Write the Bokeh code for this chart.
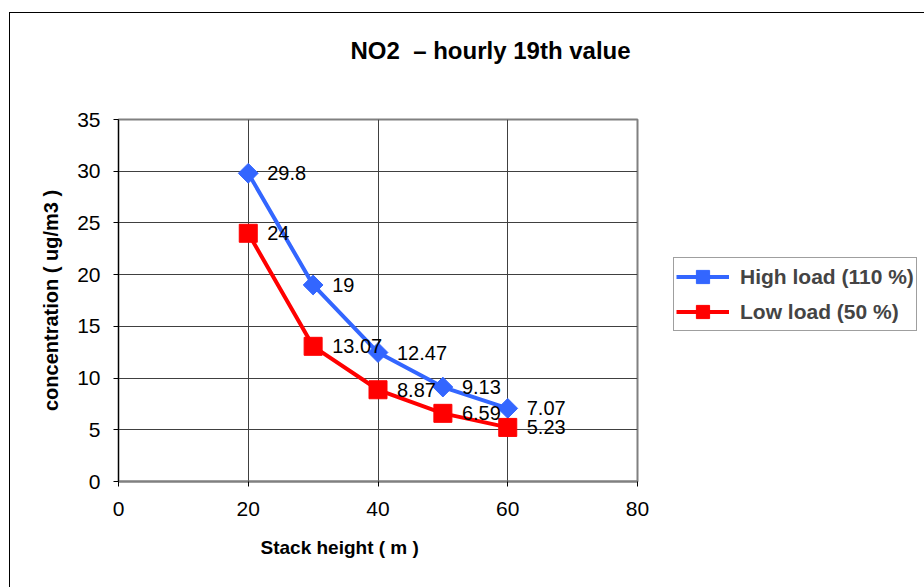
from bokeh.plotting import figure
from bokeh.models import (Legend, LegendItem, FixedTicker, Title,
                          ColumnDataSource, Range1d, LabelSet)
from bokeh.core.properties import value
from bokeh.embed import file_html
from bokeh.resources import INLINE
import numpy as np

# ---- data ----
stack_height = [20, 30, 40, 50, 60]
high_load = [29.8, 19, 12.47, 9.13, 7.07]
low_load = [24, 13.07, 8.87, 6.59, 5.23]
high_labels = ["29.8", "19", "12.47", "9.13", "7.07"]
low_labels = ["24", "13.07", "8.87", "6.59", "5.23"]
x_ticks = [0, 20, 40, 60, 80]
y_ticks = [0, 5, 10, 15, 20, 25, 30, 35]
title_text = "NO2\u00a0\u00a0\u2013 hourly 19th value"
x_label = "Stack height ( m )"
y_label = "concentration ( ug/m3 )"
series_names = ["High load (110 %)", "Low load (50 %)"]

FONT = "Liberation Sans"
BLUE = "#3366FF"
RED = "#FF0000"

p = figure(frame_width=519, frame_height=362, output_backend="svg", toolbar_location=None,
           x_range=Range1d(0, 80), y_range=Range1d(0, 35),
           min_border_left=108, min_border_right=0,
           min_border_top=106, min_border_bottom=107)
p.margin = (12, 0, 0, 9)
p.styles = {"border-left": "1px solid black", "border-top": "1px solid black"}
p.background_fill_color = "white"
p.border_fill_color = "white"
p.outline_line_color = "#808080"
p.outline_line_width = 2

# axes
for ax in (p.xaxis[0], p.yaxis[0]):
    ax.major_label_text_font = FONT
    ax.major_label_text_font_size = "21px"
    ax.major_label_text_color = "black"
    ax.axis_line_color = "#808080"
    ax.axis_line_width = 2
    ax.major_tick_line_color = "black"
    ax.major_tick_in = 0
    ax.major_tick_out = 5
    ax.minor_tick_line_color = None
p.xaxis.ticker = FixedTicker(ticks=x_ticks)
p.yaxis.ticker = FixedTicker(ticks=y_ticks)
p.xaxis.major_label_standoff = 15
p.yaxis.major_label_standoff = 13
p.yaxis.axis_line_color = "black"
p.yaxis.axis_line_width = 1
p.yaxis.axis_label = y_label
p.yaxis.axis_label_text_font = FONT
p.yaxis.axis_label_text_font_size = "20px"
p.yaxis.axis_label_text_font_style = "bold"
p.yaxis.axis_label_text_color = "black"
p.yaxis.axis_label_standoff = 12

p.xgrid.ticker = FixedTicker(ticks=x_ticks)
p.ygrid.ticker = FixedTicker(ticks=y_ticks)
p.xgrid.grid_line_color = "#404040"
p.ygrid.grid_line_color = "#404040"
p.xgrid.grid_line_width = 1
p.ygrid.grid_line_width = 1

# series
src_h = ColumnDataSource(dict(x=stack_height, y=high_load, t=high_labels))
src_l = ColumnDataSource(dict(x=stack_height, y=low_load, t=low_labels))

lh = p.line("x", "y", source=src_h, line_color=BLUE, line_width=4)
sh = p.scatter("x", "y", source=src_h, marker="square", angle=np.pi / 4,
               size=14, fill_color=BLUE, line_color=BLUE)
ll = p.line("x", "y", source=src_l, line_color=RED, line_width=4)
sl = p.scatter("x", "y", source=src_l, marker="square", size=18,
               fill_color=RED, line_color=RED)

for src in (src_h, src_l):
    p.add_layout(LabelSet(x="x", y="y", text="t", source=src, x_offset=19,
                          text_baseline="middle", text_align="left",
                          text_font=value(FONT), text_font_size="20px",
                          text_color="black"))

legend = Legend(items=[LegendItem(label=series_names[0], renderers=[lh, sh]),
                       LegendItem(label=series_names[1], renderers=[ll, sl])],
                location=(36, 150))
legend.glyph_width = 53
legend.glyph_height = 33
legend.label_standoff = 11
legend.padding = 2
legend.spacing = 2
legend.margin = 0
legend.label_text_font = FONT
legend.label_text_font_size = "21px"
legend.label_text_font_style = "bold"
legend.border_line_color = "#404040"
legend.border_line_width = 1
legend.background_fill_color = "white"
legend.background_fill_alpha = 1
p.add_layout(legend, "right")

# spacer between frame and title, then the title (outermost)
spacer = Title(text=" ", text_font=FONT, text_font_size="10px", standoff=38)
p.add_layout(spacer, "above")
p.title.text = title_text
p.title.text_font = FONT
p.title.text_font_size = "24px"
p.title.text_font_style = "bold"
p.title.text_color = "black"
p.title.align = "left"
p.title.offset = 232
p.title.standoff = 10

# x axis label as a title below, aligned like the reference
xl = Title(text=x_label, text_font=FONT, text_font_size="19px",
           text_font_style="bold", text_color="black", align="left",
           offset=142, standoff=32)
p.add_layout(xl, "below")

open("out.html", "w").write(file_html(p, INLINE))
